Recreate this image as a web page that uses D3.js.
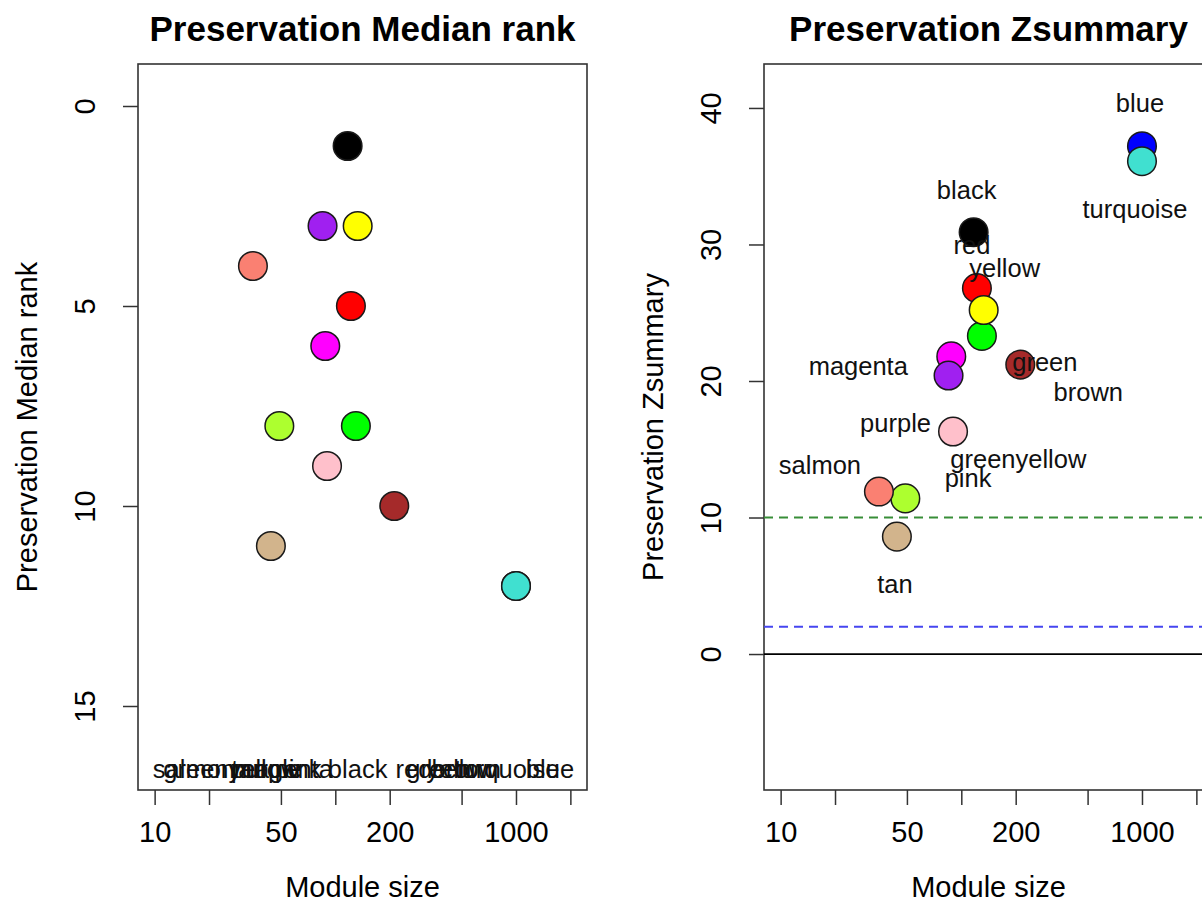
<!DOCTYPE html>
<html>
<head>
<meta charset="utf-8">
<script src="https://cdn.jsdelivr.net/npm/d3@7"></script>
<style>
  html, body { margin: 0; padding: 0; background: #fff; }
  svg { display: block; font-family: "Liberation Sans", Arial, sans-serif; }
</style>
</head>
<body>
<svg id="chart" width="1202" height="904"></svg>
<script>
// Module preservation statistics
const modules      = ["black", "blue", "brown", "green", "greenyellow", "magenta", "pink", "purple", "red", "salmon", "tan", "turquoise", "yellow"];
const moduleColors = ["#000000", "#0000FF", "#A52A2A", "#00FF00", "#ADFF2F", "#FF00FF", "#FFC0CB", "#A020F0", "#FF0000", "#FA8072", "#D2B48C", "#40E0D0", "#FFFF00"];
const moduleSize   = [117, 1000, 212, 130, 49, 88, 90, 85, 122, 35, 44, 1000, 133];
const medianRank   = [1, 12, 10, 8, 8, 6, 9, 3, 5, 4, 11, 12, 3];
const zSummary     = [30.9, 37.2, 21.2, 23.3, 11.4, 21.8, 16.3, 20.4, 26.8, 11.9, 8.6, 36.1, 25.2];

// Axis ticks
const xTicks      = [10, 20, 50, 100, 200, 500, 1000, 2000];
const xTickLabels = ["10", "", "50", "", "200", "", "1000", ""];
const rankTicks   = [0, 5, 10, 15];
const zTicks      = [0, 10, 20, 30, 40];

// Reference thresholds on the Zsummary panel
const zThresholds = [
  { value: 0,  color: "#000000", dash: null },
  { value: 2,  color: "#4646f0", dash: "9,6" },
  { value: 10, color: "#388e38", dash: "9,6" }
];

// Label placement (pixel offsets from each point), per panel
const rankLabelDx = [10, 34, 72, 83, -48, -42, -29, -56, 63, -59, -22, -9, 104];
const zLabelOffset = [
  [-7, -42], [-2, -43], [68, 27], [63, 26], [113, -39], [-93, 10], [15, 47],
  [-53, 48], [-5, -43], [-59, -26], [-2, 47], [-7, 48], [21, -42]
];

const svg = d3.select("#chart");
const W = 449, H = 726, TOP = 64;
const panelLeft = [138, 764];

// log x-range with 4% padding as in base graphics
const xlim = [10, 2000];
const lx = [Math.log10(xlim[0]), Math.log10(xlim[1])];
const pad = (lx[1] - lx[0]) * 0.04;
const xDomain = [Math.pow(10, lx[0] - pad), Math.pow(10, lx[1] + pad)];

function panel(left, title, ylab, yDomain, yTicks) {
  const g = svg.append("g").attr("transform", `translate(${left},${TOP})`);
  const x = d3.scaleLog().domain(xDomain).range([0, W]);
  const y = d3.scaleLinear().domain(yDomain).range([H, 0]);

  // x axis
  const xa = g.append("g").attr("transform", `translate(0,${H})`)
    .call(d3.axisBottom(x).tickValues(xTicks).tickSize(15).tickPadding(16)
      .tickFormat((d, i) => xTickLabels[i]));
  xa.select(".domain").remove();
  xa.selectAll("line").attr("stroke", "#333").attr("stroke-width", 1.5);
  xa.selectAll("text").attr("font-size", 29).attr("fill", "#000")
    .attr("font-family", "Liberation Sans, Arial, sans-serif");

  // y axis with rotated labels
  const ya = g.append("g")
    .call(d3.axisLeft(y).tickValues(yTicks).tickSize(15).tickFormat(d3.format("d")));
  ya.select(".domain").remove();
  ya.selectAll("line").attr("stroke", "#333").attr("stroke-width", 1.5);
  ya.selectAll("text")
    .attr("font-size", 29).attr("fill", "#000")
    .attr("font-family", "Liberation Sans, Arial, sans-serif")
    .attr("x", null).attr("dy", null)
    .attr("text-anchor", "middle")
    .attr("transform", "translate(-43,0) rotate(-90)");

  // frame
  g.append("rect").attr("width", W).attr("height", H)
    .attr("fill", "none").attr("stroke", "#333").attr("stroke-width", 1.6);

  // titles
  g.append("text").attr("x", W / 2).attr("y", 41 - TOP)
    .attr("text-anchor", "middle").attr("font-size", 35).attr("font-weight", "bold")
    .text(title);
  g.append("text").attr("x", W / 2).attr("y", 897 - TOP)
    .attr("text-anchor", "middle").attr("font-size", 29)
    .text("Module size");
  g.append("text")
    .attr("transform", `translate(-101,${H / 2}) rotate(-90)`)
    .attr("text-anchor", "middle").attr("font-size", 29)
    .text(ylab);

  return { g, x, y };
}

function drawPoints(p, yValues) {
  p.g.selectAll("circle.pt").data(modules).enter().append("circle")
    .attr("class", "pt")
    .attr("cx", (d, i) => p.x(moduleSize[i]))
    .attr("cy", (d, i) => p.y(yValues[i]))
    .attr("r", 14.3)
    .attr("fill", (d, i) => moduleColors[i])
    .attr("stroke", "#1a1a1a").attr("stroke-width", 1.5);
}

// Panel 1: median rank (rank 0 at top)
const p1 = panel(panelLeft[0], "Preservation Median rank", "Preservation Median rank",
  [17.1, -1.05], rankTicks);
drawPoints(p1, medianRank);
p1.g.selectAll("text.lbl").data(modules).enter().append("text")
  .attr("class", "lbl")
  .attr("x", (d, i) => p1.x(moduleSize[i]) + rankLabelDx[i])
  .attr("y", 778 - TOP)
  .attr("text-anchor", "middle").attr("font-size", 25.5).attr("fill", "#111")
  .text(d => d);

// Panel 2: Zsummary
const p2 = panel(panelLeft[1], "Preservation Zsummary", "Preservation Zsummary",
  [-9.96, 43.22], zTicks);
p2.g.selectAll("line.thr").data(zThresholds).enter().append("line")
  .attr("class", "thr")
  .attr("x1", 0).attr("x2", W)
  .attr("y1", d => p2.y(d.value)).attr("y2", d => p2.y(d.value))
  .attr("stroke", d => d.color).attr("stroke-width", 1.8)
  .attr("stroke-dasharray", d => d.dash);
drawPoints(p2, zSummary);
p2.g.selectAll("text.lbl").data(modules).enter().append("text")
  .attr("class", "lbl")
  .attr("x", (d, i) => p2.x(moduleSize[i]) + zLabelOffset[i][0])
  .attr("y", (d, i) => p2.y(zSummary[i]) + zLabelOffset[i][1])
  .attr("dy", "0.35em")
  .attr("text-anchor", "middle").attr("font-size", 25.5).attr("fill", "#111")
  .text(d => d);
</script>
</body>
</html>
